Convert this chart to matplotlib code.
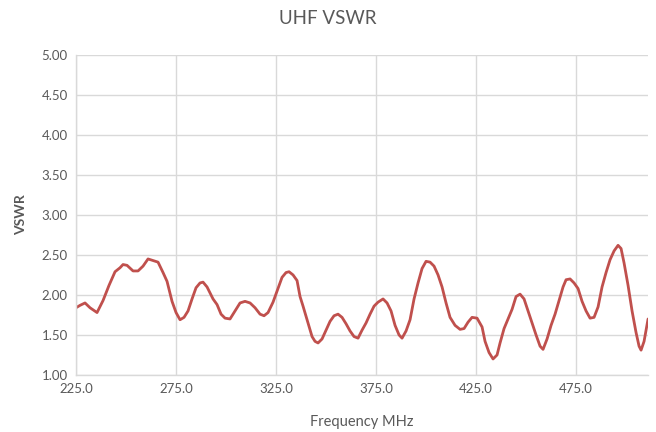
import matplotlib
matplotlib.use("Agg")
import matplotlib.pyplot as plt
from matplotlib.ticker import FormatStrFormatter, MultipleLocator

plt.rcParams['font.family'] = ['Lato', 'DejaVu Sans']

freq_mhz = [225.0, 227, 229.5, 232, 235.5, 238.5, 241.5, 244.5, 247, 248.5, 250.5, 253.5, 256,
            258.5, 261, 263.5, 266, 268.5, 270.5, 273, 275, 277, 279, 281, 283, 285, 287, 288.5,
            290.5, 293.5, 295.5, 297.5, 299.5, 302, 304.5, 307, 309.5, 312, 314.5, 317, 319, 321,
            323.5, 326, 328, 330, 331.5, 333.5, 335.5, 337, 338.5, 341, 343, 344.5, 346, 348, 350,
            352, 354, 356, 358, 360, 362, 364, 366, 368, 370, 372, 374, 376, 378.5, 380.5, 382.5,
            384.5, 386.5, 388, 390, 392, 394, 396, 398, 400, 402, 404, 406, 408, 410, 412, 414.5,
            417, 419, 421, 423, 425.5, 428, 429.5, 431.5, 433.5, 435.5, 437, 439, 441, 443, 445,
            447, 449, 451, 453, 455, 457, 458.5, 460.5, 462.5, 464.5, 466.5, 468.5, 470, 472, 474,
            476, 478, 480, 482, 484, 486, 488, 490, 492, 494, 496, 497.5, 499, 501, 503, 505,
            506.5, 507.5, 509, 511]
vswr = [1.84, 1.87, 1.90, 1.84, 1.78, 1.93, 2.12, 2.29, 2.34, 2.38, 2.37, 2.30, 2.30,
        2.36, 2.45, 2.43, 2.41, 2.28, 2.17, 1.92, 1.78, 1.69, 1.72, 1.80, 1.95, 2.09, 2.15, 2.16,
        2.10, 1.95, 1.88, 1.76, 1.71, 1.70, 1.80, 1.90, 1.92, 1.90, 1.84, 1.76, 1.74, 1.78,
        1.91, 2.08, 2.22, 2.28, 2.29, 2.25, 2.18, 1.98, 1.86, 1.65, 1.48, 1.42, 1.40, 1.45, 1.56,
        1.67, 1.74, 1.76, 1.72, 1.64, 1.55, 1.48, 1.46, 1.56, 1.65, 1.76, 1.86, 1.91, 1.95, 1.90, 1.80,
        1.62, 1.50, 1.46, 1.55, 1.69, 1.95, 2.15, 2.33, 2.42, 2.41, 2.36, 2.25, 2.10, 1.90, 1.72, 1.62,
        1.57, 1.58, 1.66, 1.72, 1.71, 1.60, 1.42, 1.28, 1.20, 1.25, 1.40, 1.58, 1.70, 1.82, 1.98,
        2.01, 1.95, 1.80, 1.65, 1.50, 1.36, 1.32, 1.45, 1.62, 1.76, 1.93, 2.10, 2.19, 2.20, 2.15,
        2.08, 1.92, 1.80, 1.71, 1.72, 1.85, 2.10, 2.28, 2.44, 2.55, 2.62, 2.58, 2.40, 2.12, 1.80, 1.53,
        1.36, 1.31, 1.42, 1.70]

x_ticks = [225, 275, 325, 375, 425, 475]

grey_text = '#595959'
grid_col = '#d9d9d9'

fig = plt.figure(figsize=(6.56, 4.32), dpi=100)
ax = fig.add_axes([0.1159, 0.132, 0.8720, 0.741])

ax.plot(freq_mhz, vswr, color='#c0504d', linewidth=2.0, solid_capstyle='round', solid_joinstyle='round')

ax.set_xlim(225, 511)
ax.set_ylim(1.0, 5.0)
ax.set_xticks(x_ticks)
ax.xaxis.set_major_formatter(FormatStrFormatter('%.1f'))
ax.yaxis.set_major_locator(MultipleLocator(0.5))
ax.yaxis.set_major_formatter(FormatStrFormatter('%.2f'))

ax.grid(True, color=grid_col, linewidth=1.0)
ax.set_axisbelow(True)
for s in ['top', 'right']:
    ax.spines[s].set_visible(False)
for s in ['left', 'bottom']:
    ax.spines[s].set_color(grid_col)
    ax.spines[s].set_linewidth(1.0)

ax.tick_params(axis='both', length=0, labelsize=9.5, labelcolor=grey_text, pad=6)

fig.text(0.5, 1 - 18 / 432, 'UHF VSWR', fontsize=13.5, color=grey_text, ha='center', va='center')
ax.set_xlabel('Frequency MHz', fontsize=10.5, color=grey_text, labelpad=14)
ax.set_ylabel('VSWR', fontsize=10, color=grey_text, fontweight='bold', labelpad=10)

fig.savefig('out.png', dpi=100, facecolor='white')
